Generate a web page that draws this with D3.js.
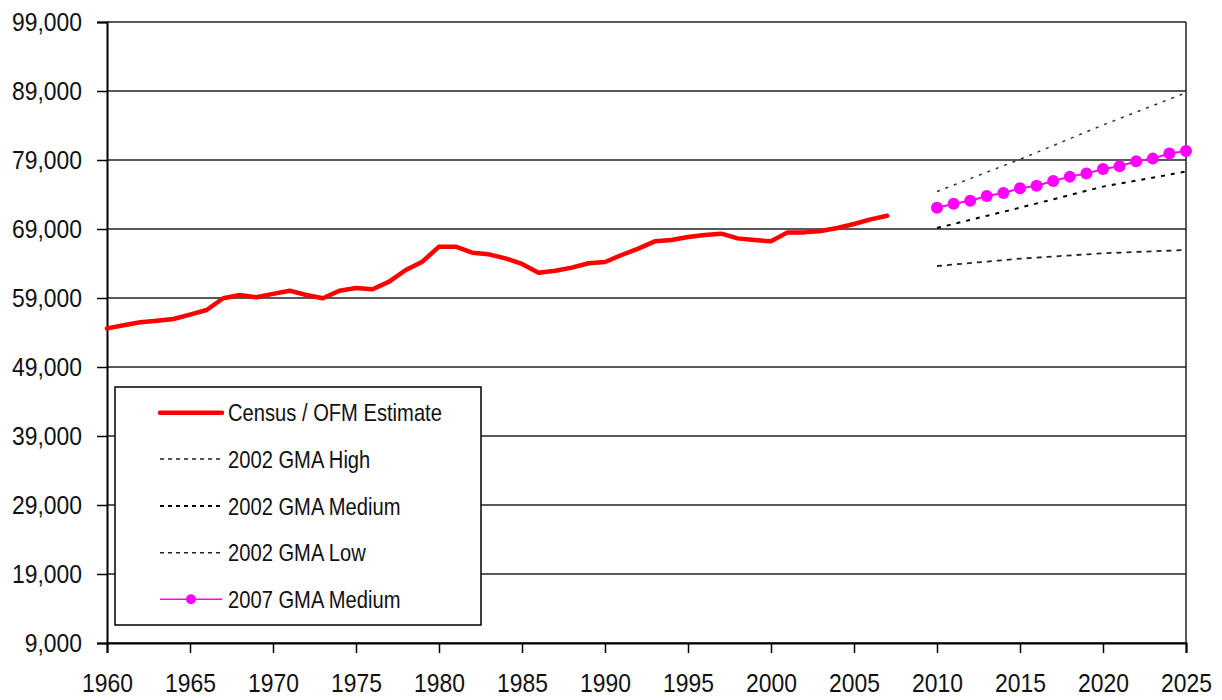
<!DOCTYPE html>
<html>
<head>
<meta charset="utf-8">
<script src="https://cdn.jsdelivr.net/npm/d3@7"></script>
<style>
  html, body { margin: 0; padding: 0; background: #fff; }
  svg { display: block; }
  text { font-family: "Liberation Sans", Arial, sans-serif; fill: #111; }
</style>
</head>
<body>
<svg id="chart" width="1222" height="700"></svg>
<script>
// ---- data ----
const censusYears = [1960,1961,1962,1963,1964,1965,1966,1967,1968,1969,1970,1971,1972,1973,1974,1975,1976,1977,1978,1979,1980,1981,1982,1983,1984,1985,1986,1987,1988,1989,1990,1991,1992,1993,1994,1995,1996,1997,1998,1999,2000,2001,2002,2003,2004,2005,2006,2007];
const censusValues = [54600,55050,55480,55700,55960,56600,57260,58960,59430,59100,59600,60060,59430,58960,60060,60450,60260,61370,63060,64260,66440,66440,65570,65330,64750,63930,62670,62960,63400,64030,64220,65230,66150,67210,67400,67840,68130,68320,67640,67400,67210,68510,68510,68700,69140,69720,70400,70930];

const gma2002Years = [2010, 2015, 2020, 2025];
const gma2002High = [74430, 79100, 84070, 88750];
const gma2002Medium = [69140, 72090, 75140, 77320];
const gma2002Low = [63640, 64700, 65480, 65960];

const gma2007Years = [2010,2011,2012,2013,2014,2015,2016,2017,2018,2019,2020,2021,2022,2023,2024,2025];
const gma2007Medium = [72090,72670,73100,73780,74220,74900,75280,75960,76590,77030,77700,78090,78820,79200,79930,80300];

const yTicks = [9000,19000,29000,39000,49000,59000,69000,79000,89000,99000];
const xTicks = [1960,1965,1970,1975,1980,1985,1990,1995,2000,2005,2010,2015,2020,2025];

const legendLabels = ["Census / OFM Estimate","2002 GMA High","2002 GMA Medium","2002 GMA Low","2007 GMA Medium"];

// ---- layout ----
const L = 107, R = 1186, T = 22, B = 643;
const TICK_SX = 0.88, LEG_SX = 0.84;
const svg = d3.select("#chart");
const x = d3.scaleLinear().domain([1960, 2025]).range([L, R]);
const y = d3.scaleLinear().domain([9000, 99000]).range([B, T]);

// gridlines
svg.append("g").selectAll("line").data(yTicks).join("line")
  .attr("x1", L).attr("x2", R)
  .attr("y1", d => y(d)).attr("y2", d => y(d))
  .attr("stroke", "#222").attr("stroke-width", 1.5);

// frame right
svg.append("line").attr("x1", R).attr("x2", R).attr("y1", T).attr("y2", B)
  .attr("stroke", "#222").attr("stroke-width", 1.5);

// axes
const yAxis = d3.axisLeft(y).tickValues(yTicks).tickFormat(d3.format(",")).tickSize(10).tickPadding(15);
const gy = svg.append("g").attr("transform", `translate(${L},0)`).call(yAxis);
gy.select(".domain").attr("stroke", "#000").attr("stroke-width", 2);
gy.selectAll(".tick line").attr("stroke", "#000").attr("stroke-width", 1.5);
gy.selectAll(".tick text").attr("font-size", 26).attr("fill", "#111")
  .attr("x", -25 / TICK_SX).attr("transform", `scale(${TICK_SX},1)`);

const xAxis = d3.axisBottom(x).tickValues(xTicks).tickFormat(d3.format("d")).tickSize(10).tickPadding(21);
const gx = svg.append("g").attr("transform", `translate(0,${B})`).call(xAxis);
gx.select(".domain").attr("stroke", "#000").attr("stroke-width", 2);
gx.selectAll(".tick line").attr("stroke", "#000").attr("stroke-width", 1.5);
gx.selectAll(".tick text").attr("font-size", 26).attr("fill", "#111")
  .attr("transform", `scale(${TICK_SX},1)`);

const line = d3.line().x(d => x(d[0])).y(d => y(d[1]));

// 2002 projections
svg.append("path").datum(d3.zip(gma2002Years, gma2002High)).attr("d", line)
  .attr("fill", "none").attr("stroke", "#333").attr("stroke-width", 1.5).attr("stroke-dasharray", "3,6");
svg.append("path").datum(d3.zip(gma2002Years, gma2002Medium)).attr("d", line)
  .attr("fill", "none").attr("stroke", "#000").attr("stroke-width", 2).attr("stroke-dasharray", "4,6");
svg.append("path").datum(d3.zip(gma2002Years, gma2002Low)).attr("d", line)
  .attr("fill", "none").attr("stroke", "#222").attr("stroke-width", 1.8).attr("stroke-dasharray", "5,5");

// census
svg.append("path").datum(d3.zip(censusYears, censusValues)).attr("d", line)
  .attr("fill", "none").attr("stroke", "#ff0000").attr("stroke-width", 4.5)
  .attr("stroke-linejoin", "round").attr("stroke-linecap", "round");

// 2007 GMA medium
const g07 = d3.zip(gma2007Years, gma2007Medium);
svg.append("path").datum(g07).attr("d", line)
  .attr("fill", "none").attr("stroke", "#ff00ff").attr("stroke-width", 2);
svg.append("g").selectAll("circle").data(g07).join("circle")
  .attr("cx", d => x(d[0])).attr("cy", d => y(d[1])).attr("r", 6).attr("fill", "#ff00ff");

// legend
const lg = svg.append("g");
lg.append("rect").attr("x", 115).attr("y", 387).attr("width", 366).attr("height", 238)
  .attr("fill", "#fff").attr("stroke", "#000").attr("stroke-width", 1.5);
const rowY = [412.7, 459, 506, 552.7, 599.3];
const styles = [
  {stroke: "#ff0000", w: 4.5, dash: null, dot: false},
  {stroke: "#222", w: 1.3, dash: "4,4", dot: false},
  {stroke: "#000", w: 2, dash: "4,4", dot: false},
  {stroke: "#222", w: 1.5, dash: "4,4", dot: false},
  {stroke: "#ff00ff", w: 1.5, dash: null, dot: true}
];
legendLabels.forEach((lab, i) => {
  const s = styles[i];
  const ln = lg.append("line").attr("x1", 160).attr("x2", 222).attr("y1", rowY[i]).attr("y2", rowY[i])
    .attr("stroke", s.stroke).attr("stroke-width", s.w);
  if (s.dash) ln.attr("stroke-dasharray", s.dash);
  if (i === 0) ln.attr("stroke-linecap", "round");
  if (s.dot) lg.append("circle").attr("cx", 191).attr("cy", rowY[i]).attr("r", 5).attr("fill", "#ff00ff");
  lg.append("text").attr("x", 228 / LEG_SX).attr("y", rowY[i]).attr("dy", "0.36em")
    .attr("transform", `scale(${LEG_SX},1)`)
    .attr("font-size", 24).text(lab);
});
</script>
</body>
</html>
